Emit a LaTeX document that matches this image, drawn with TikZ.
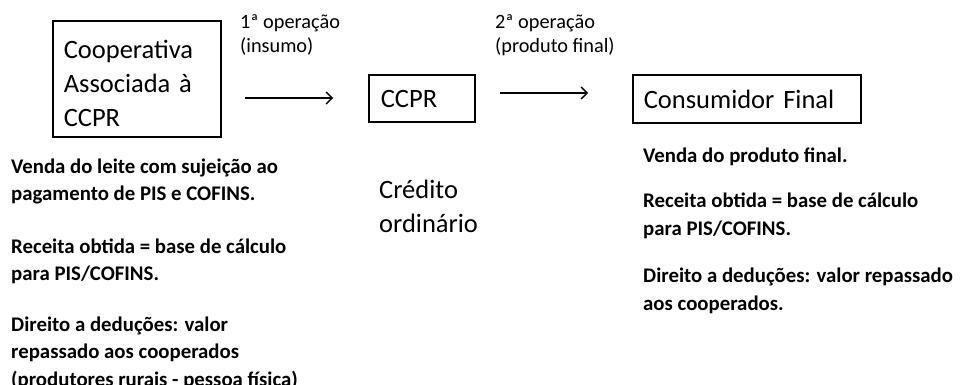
\documentclass[tikz,border=0pt]{standalone}
\usepackage{fontspec}
\setmainfont{Carlito}
\usetikzlibrary{arrows.meta}
\begin{document}
\begin{tikzpicture}[x=1pt,y=-1pt,
  boxnode/.style={draw, line width=1.6pt, align=left, anchor=west, inner ysep=0pt},
  bigtxt/.style={font=\fontsize{26.5}{34}\selectfont},
  lbl/.style={font=\fontsize{20.3}{24}\selectfont, align=left, anchor=base west, inner sep=0pt},
  para/.style={font=\bfseries\fontsize{20.8}{27.5}\selectfont, align=left, anchor=base west, inner sep=0pt},
  flow/.style={line width=1.3pt, -{Straight Barb[length=6pt,width=12pt,line width=1.3pt]}}]
\useasboundingbox (0,0) rectangle (966,385);
\fill[white] (0,0) rectangle (966,385);
% boxes
\node[boxnode, bigtxt, text width=146pt, inner xsep=11pt, minimum height=116pt] (coop) at (52,79)
  {\rule{0pt}{28pt}Cooperativa\\Associada à\\CCPR};
\node[boxnode, bigtxt, text width=82pt, inner xsep=12pt, minimum height=47pt] (ccpr) at (368,98.5) {CCPR};
\node[boxnode, bigtxt, text width=206pt, inner xsep=11pt, minimum height=48pt] (cons) at (632,99) {Consumidor Final};
% arrows
\coordinate (a1s) at (245,98);
\coordinate (a1e) at (333,98);
\coordinate (a2s) at (500,93);
\coordinate (a2e) at (588,93);
\draw[flow] (a1s) -- (a1e);
\draw[flow] (a2s) -- (a2e);
% operation labels
\node[lbl] (op1) at (240,53) {1ª operação\\(insumo)};
\node[lbl] (op2) at (495,53) {2ª operação\\(produto final)};
% credit
\node[bigtxt, align=left, anchor=base west, inner sep=0pt] (cred) at (379,232) {Crédito\\ordinário};
% left paragraphs
\node[para] (l1) at (11,200.5) {Venda do leite com sujeição ao\\pagamento de PIS e COFINS.};
\node[para] (l2) at (11,280.5) {Receita obtida = base de cálculo\\para PIS/COFINS.};
\node[para] (l3) at (11,386) {Direito a deduções: valor\\repassado aos cooperados\\(produtores rurais - pessoa física)};
% right paragraphs
\node[para] (r1) at (643,162) {Venda do produto final.};
\node[para] (r2) at (643,235) {Receita obtida = base de cálculo\\para PIS/COFINS.};
\node[para] (r3) at (643,310) {Direito a deduções: valor repassado\\aos cooperados.};
\end{tikzpicture}
\end{document}
